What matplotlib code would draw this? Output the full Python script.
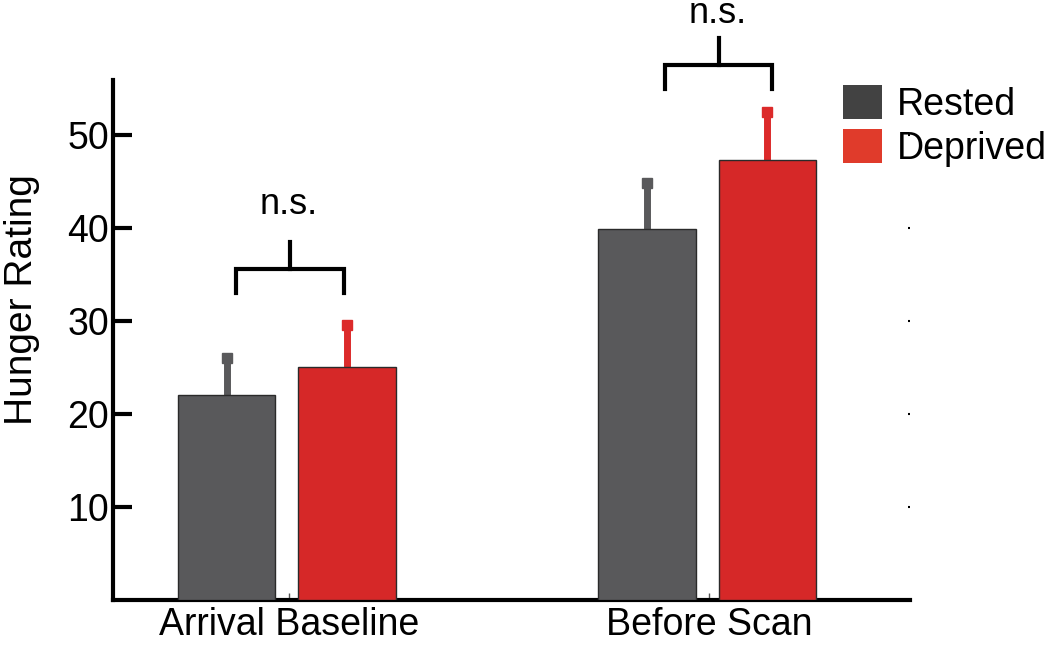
import matplotlib
matplotlib.use("Agg")
import matplotlib.pyplot as plt
from matplotlib.patches import Patch
from matplotlib.transforms import ScaledTranslation
import numpy as np

plt.rcParams['font.family'] = ['Liberation Sans', 'DejaVu Sans']

# ---- data ----
groups = ["Arrival Baseline", "Before Scan"]
series = ["Rested", "Deprived"]
rested = [22.0, 39.9]
deprived = [25.0, 47.3]
rested_err = [4.5, 5.4]
deprived_err = [5.0, 5.6]
yticks = [10, 20, 30, 40, 50]
sig_labels = ["n.s.", "n.s."]

# ---- style ----
c_rest = "#59595b"
c_dep = "#d62828"
c_rest_leg = "#424242"
c_dep_leg = "#e03b2b"
fs = 27

fig = plt.figure(figsize=(10.5, 6.45), dpi=100)
ax = fig.add_axes([113/1050, 1-600/645, (910-113)/1050, 520/645])

x = np.arange(len(groups))
off = 0.143
w = 0.231
ax.bar(x - off, rested, width=w, color=c_rest, edgecolor="#2a2a2a", linewidth=1.0, zorder=3)
ax.bar(x + off, deprived, width=w, color=c_dep, edgecolor="#2a2a2a", linewidth=1.0, zorder=3)

# upper-only error bars
for xs, vals, errs, col in [(x - off, rested, rested_err, c_rest), (x + off, deprived, deprived_err, "#dc2a2a")]:
    tops = np.array(vals) + np.array(errs)
    ax.vlines(xs, vals, tops, colors=col, linewidth=5, zorder=2)
    ax.plot(xs, tops - 0.45, linestyle="none", marker="s", ms=6.5, color=col, zorder=2, clip_on=False)

# significance brackets (annotation placement)
bracket_y = [35.6, 57.5]
label_y = [41.5, 62.0]
bracket_dx = [(0.022, -0.007), (0.043, 0.012)]
for i, lab in enumerate(sig_labels):
    yb = bracket_y[i]
    xl = x[i] - off + bracket_dx[i][0]
    xr = x[i] + off + bracket_dx[i][1]
    xm = (xl + xr) / 2
    ax.plot([xl, xl, xr, xr], [yb - 2.6, yb, yb, yb - 2.6], color="black", lw=3,
            solid_joinstyle="miter", clip_on=False, zorder=4)
    ax.plot([xm, xm], [yb, yb + 2.9], color="black", lw=3, clip_on=False, zorder=4)
    ax.text(xm - 0.003, label_y[i], lab, ha="center", va="baseline", fontsize=26)

ax.set_xlim(-0.414, 1.483)
ax.set_ylim(0, 55.9)
ax.set_yticks(yticks)
ax.set_yticklabels([str(t) for t in yticks], fontsize=fs)
ax.set_xticks(x + 0.005)
ax.set_xticklabels(groups, fontsize=27)
label_shift = [14, 5]
for lbl, dxp in zip(ax.get_xticklabels(), label_shift):
    lbl.set_transform(lbl.get_transform() + ScaledTranslation(dxp/100, 0, fig.dpi_scale_trans))
ax.set_ylabel("Hunger Rating", fontsize=28)
ax.yaxis.set_label_coords(-0.092, 0.577)

for s in ["top", "right"]:
    ax.spines[s].set_visible(False)
for s in ["left", "bottom"]:
    ax.spines[s].set_linewidth(3)
    ax.spines[s].set_color("black")

ax.tick_params(axis="y", direction="in", length=14, width=3, pad=3, right=True)
ax.tick_params(axis="x", direction="in", length=5, width=1, pad=5, color="#555555")
for t in ax.yaxis.get_major_ticks():
    t.tick2line.set_markersize(1.5)
    t.tick2line.set_markeredgewidth(1.5)

handles = [Patch(facecolor=c_rest_leg, edgecolor="none"), Patch(facecolor=c_dep_leg, edgecolor="none")]
fig.legend(handles, series, loc="upper left", bbox_to_anchor=(843/1050, 1-85/645),
           frameon=False, fontsize=fs, handlelength=1.05, handleheight=1.0,
           handletextpad=0.4, labelspacing=0.18, borderpad=0, borderaxespad=0)

fig.savefig("out.png", dpi=100)
